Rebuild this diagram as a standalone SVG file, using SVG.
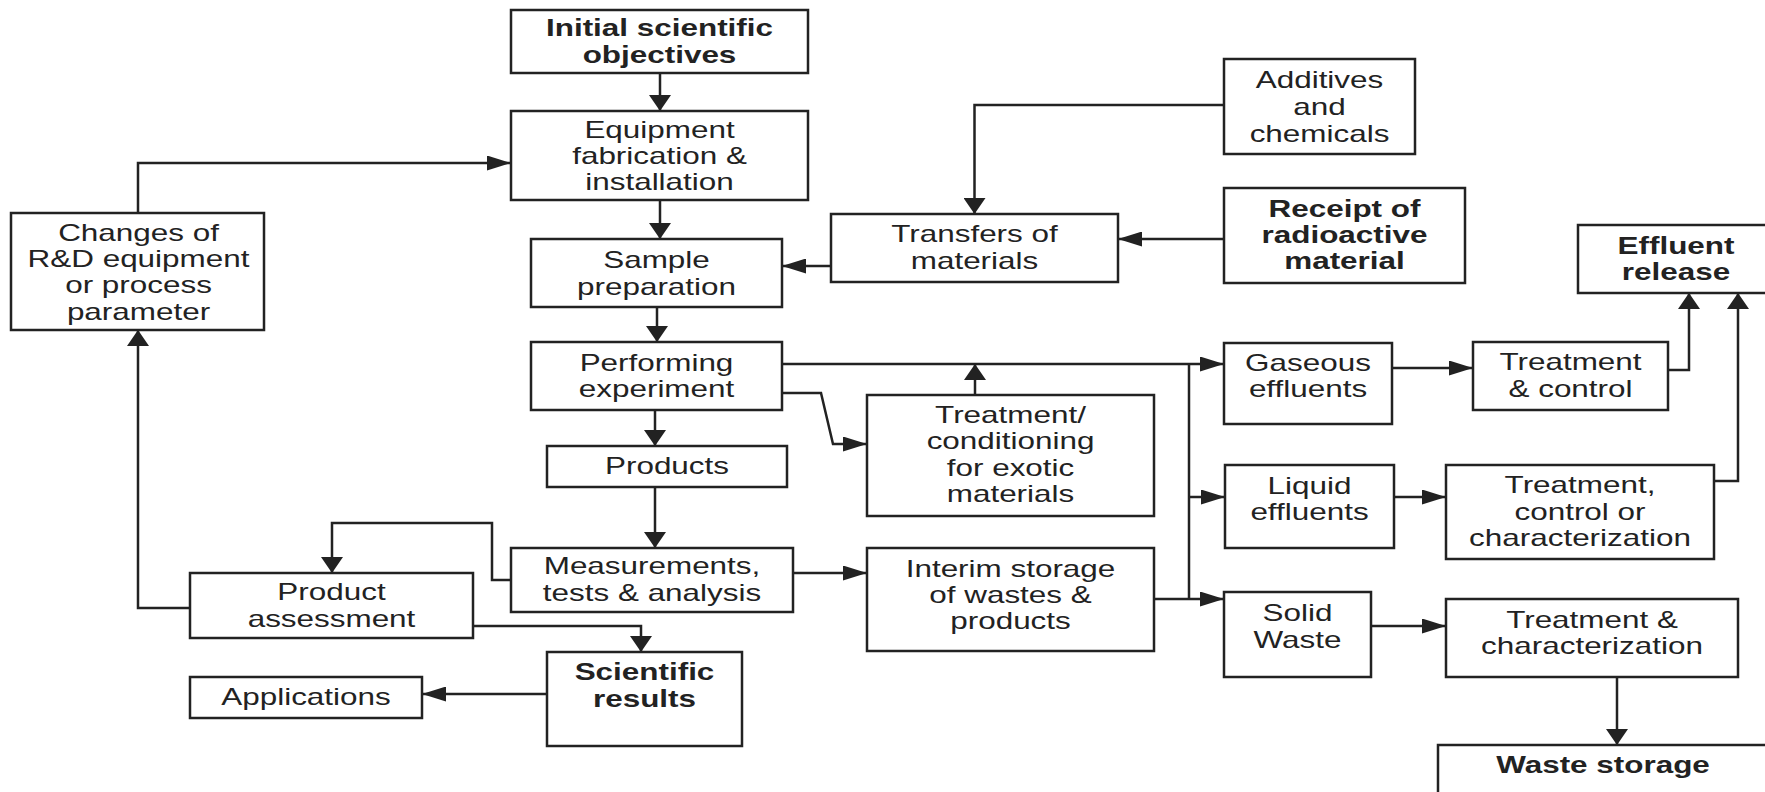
<svg xmlns="http://www.w3.org/2000/svg" width="1765" height="792" viewBox="0 0 1765 792">
<style>
.box{fill:#fff;stroke:#222;stroke-width:2.5}
.t{font-family:"Liberation Sans",Arial,sans-serif;font-size:24px;fill:#222;text-anchor:middle}
.b{font-weight:bold}
.c{fill:none;stroke:#222;stroke-width:2.5}
.h{marker-end:url(#mh)}
.v{marker-end:url(#mv)}
</style>
<defs>
<marker id="mh" markerUnits="userSpaceOnUse" markerWidth="24" markerHeight="15" refX="24" refY="7.5" orient="auto"><path d="M0,0 L24,7.5 L0,15 z" fill="#222"/></marker>
<marker id="mv" markerUnits="userSpaceOnUse" markerWidth="16" markerHeight="22" refX="16" refY="11" orient="auto"><path d="M0,0 L16,11 L0,22 z" fill="#222"/></marker>
</defs>
<rect width="1765" height="792" fill="#fff"/>
<g id="connectors">
<path class="c v" d="M660,73 V111"/>
<path class="c v" d="M660,200 V239"/>
<path class="c v" d="M657,307 V342"/>
<path class="c v" d="M655,410 V446"/>
<path class="c v" d="M655,487 V548"/>
<path class="c h" d="M831,266 H782"/>
<path class="c h" d="M1224,239 H1118"/>
<path class="c v" d="M1224,105 H974.5 V214"/>
<path class="c h" d="M138,213 V163 H511"/>
<path class="c v" d="M190,608 H138 V330"/>
<path class="c v" d="M511,580 H492 V523 H332 V573"/>
<path class="c v" d="M473,626 H641 V652"/>
<path class="c h" d="M547,694 H422"/>
<path class="c h" d="M782,364 H1224"/>
<path class="c v" d="M975,395 V364"/>
<path class="c h" d="M782,393 H821 L833,444 H867"/>
<path class="c h" d="M793,573 H867"/>
<path class="c h" d="M1154,599 H1224"/>
<path class="c" d="M1189,364 V599"/>
<path class="c h" d="M1189,497 H1225"/>
<path class="c h" d="M1392,368 H1473"/>
<path class="c h" d="M1394,497 H1446"/>
<path class="c h" d="M1371,626 H1446"/>
<path class="c v" d="M1668,370 H1689 V293"/>
<path class="c v" d="M1714,481 H1738 V293"/>
<path class="c v" d="M1617,677 V745"/>
</g>
<g id="init"><rect class="box" x="511" y="10" width="297" height="63"/>
<text class="t b" transform="translate(659.5 0) scale(1.31 1)"><tspan x="0" y="36">Initial scientific</tspan><tspan x="0" y="63">objectives</tspan></text></g>
<g id="equip"><rect class="box" x="511" y="111" width="297" height="89"/>
<text class="t" transform="translate(659.5 0) scale(1.31 1)"><tspan x="0" y="138">Equipment</tspan><tspan x="0" y="164">fabrication &amp;</tspan><tspan x="0" y="190">installation</tspan></text></g>
<g id="changes"><rect class="box" x="11" y="213" width="253" height="117"/>
<text class="t" transform="translate(138.5 0) scale(1.31 1)"><tspan x="0" y="241">Changes of</tspan><tspan x="0" y="267">R&amp;D equipment</tspan><tspan x="0" y="293.5">or process</tspan><tspan x="0" y="320">parameter</tspan></text></g>
<g id="sample"><rect class="box" x="531" y="239" width="251" height="68"/>
<text class="t" transform="translate(656.5 0) scale(1.31 1)"><tspan x="0" y="268">Sample</tspan><tspan x="0" y="295">preparation</tspan></text></g>
<g id="transfers"><rect class="box" x="831" y="214" width="287" height="68"/>
<text class="t" transform="translate(974.5 0) scale(1.31 1)"><tspan x="0" y="242.5">Transfers of</tspan><tspan x="0" y="269">materials</tspan></text></g>
<g id="additives"><rect class="box" x="1224" y="59" width="191" height="95"/>
<text class="t" transform="translate(1319.5 0) scale(1.31 1)"><tspan x="0" y="88">Additives</tspan><tspan x="0" y="115">and</tspan><tspan x="0" y="142">chemicals</tspan></text></g>
<g id="receipt"><rect class="box" x="1224" y="188" width="241" height="95"/>
<text class="t b" transform="translate(1344.5 0) scale(1.31 1)"><tspan x="0" y="217">Receipt of</tspan><tspan x="0" y="243.5">radioactive</tspan><tspan x="0" y="269.5">material</tspan></text></g>
<g id="effluent"><rect class="box" x="1578" y="225" width="200" height="68"/>
<text class="t b" transform="translate(1676 0) scale(1.31 1)"><tspan x="0" y="254">Effluent</tspan><tspan x="0" y="280.5">release</tspan></text></g>
<g id="perform"><rect class="box" x="531" y="342" width="251" height="68"/>
<text class="t" transform="translate(656.5 0) scale(1.31 1)"><tspan x="0" y="371">Performing</tspan><tspan x="0" y="397">experiment</tspan></text></g>
<g id="treatcond"><rect class="box" x="867" y="395" width="287" height="121"/>
<text class="t" transform="translate(1010.5 0) scale(1.31 1)"><tspan x="0" y="423">Treatment/</tspan><tspan x="0" y="449">conditioning</tspan><tspan x="0" y="476">for exotic</tspan><tspan x="0" y="502">materials</tspan></text></g>
<g id="products"><rect class="box" x="547" y="446" width="240" height="41"/>
<text class="t" transform="translate(667 0) scale(1.31 1)"><tspan x="0" y="474">Products</tspan></text></g>
<g id="measure"><rect class="box" x="511" y="548" width="282" height="64"/>
<text class="t" transform="translate(652 0) scale(1.31 1)"><tspan x="0" y="574.5">Measurements,</tspan><tspan x="0" y="601">tests &amp; analysis</tspan></text></g>
<g id="interim"><rect class="box" x="867" y="548" width="287" height="103"/>
<text class="t" transform="translate(1010.5 0) scale(1.31 1)"><tspan x="0" y="577">Interim storage</tspan><tspan x="0" y="603">of wastes &amp;</tspan><tspan x="0" y="629">products</tspan></text></g>
<g id="prodassess"><rect class="box" x="190" y="573" width="283" height="65"/>
<text class="t" transform="translate(331.5 0) scale(1.31 1)"><tspan x="0" y="600.5">Product</tspan><tspan x="0" y="627">assessment</tspan></text></g>
<g id="scientific"><rect class="box" x="547" y="652" width="195" height="94"/>
<text class="t b" transform="translate(644.5 0) scale(1.31 1)"><tspan x="0" y="680">Scientific</tspan><tspan x="0" y="707">results</tspan></text></g>
<g id="applications"><rect class="box" x="190" y="677" width="232" height="41"/>
<text class="t" transform="translate(306 0) scale(1.31 1)"><tspan x="0" y="705">Applications</tspan></text></g>
<g id="gaseous"><rect class="box" x="1224" y="343" width="168" height="81"/>
<text class="t" transform="translate(1308 0) scale(1.31 1)"><tspan x="0" y="371">Gaseous</tspan><tspan x="0" y="397">effluents</tspan></text></g>
<g id="treatctrl"><rect class="box" x="1473" y="342" width="195" height="68"/>
<text class="t" transform="translate(1570.5 0) scale(1.31 1)"><tspan x="0" y="370.5">Treatment</tspan><tspan x="0" y="397">&amp; control</tspan></text></g>
<g id="liquid"><rect class="box" x="1225" y="465" width="169" height="83"/>
<text class="t" transform="translate(1309.5 0) scale(1.31 1)"><tspan x="0" y="494">Liquid</tspan><tspan x="0" y="520">effluents</tspan></text></g>
<g id="treatctrlchar"><rect class="box" x="1446" y="465" width="268" height="94"/>
<text class="t" transform="translate(1580 0) scale(1.31 1)"><tspan x="0" y="493.5">Treatment,</tspan><tspan x="0" y="520">control or</tspan><tspan x="0" y="546.5">characterization</tspan></text></g>
<g id="solid"><rect class="box" x="1224" y="592" width="147" height="85"/>
<text class="t" transform="translate(1297.5 0) scale(1.31 1)"><tspan x="0" y="621">Solid</tspan><tspan x="0" y="648">Waste</tspan></text></g>
<g id="treatchar"><rect class="box" x="1446" y="599" width="292" height="78"/>
<text class="t" transform="translate(1592 0) scale(1.31 1)"><tspan x="0" y="628">Treatment &amp;</tspan><tspan x="0" y="654.5">characterization</tspan></text></g>
<g id="waste"><rect class="box" x="1438" y="745" width="340" height="60"/>
<text class="t b" transform="translate(1603 0) scale(1.31 1)"><tspan x="0" y="773">Waste storage</tspan></text></g>
</svg>
